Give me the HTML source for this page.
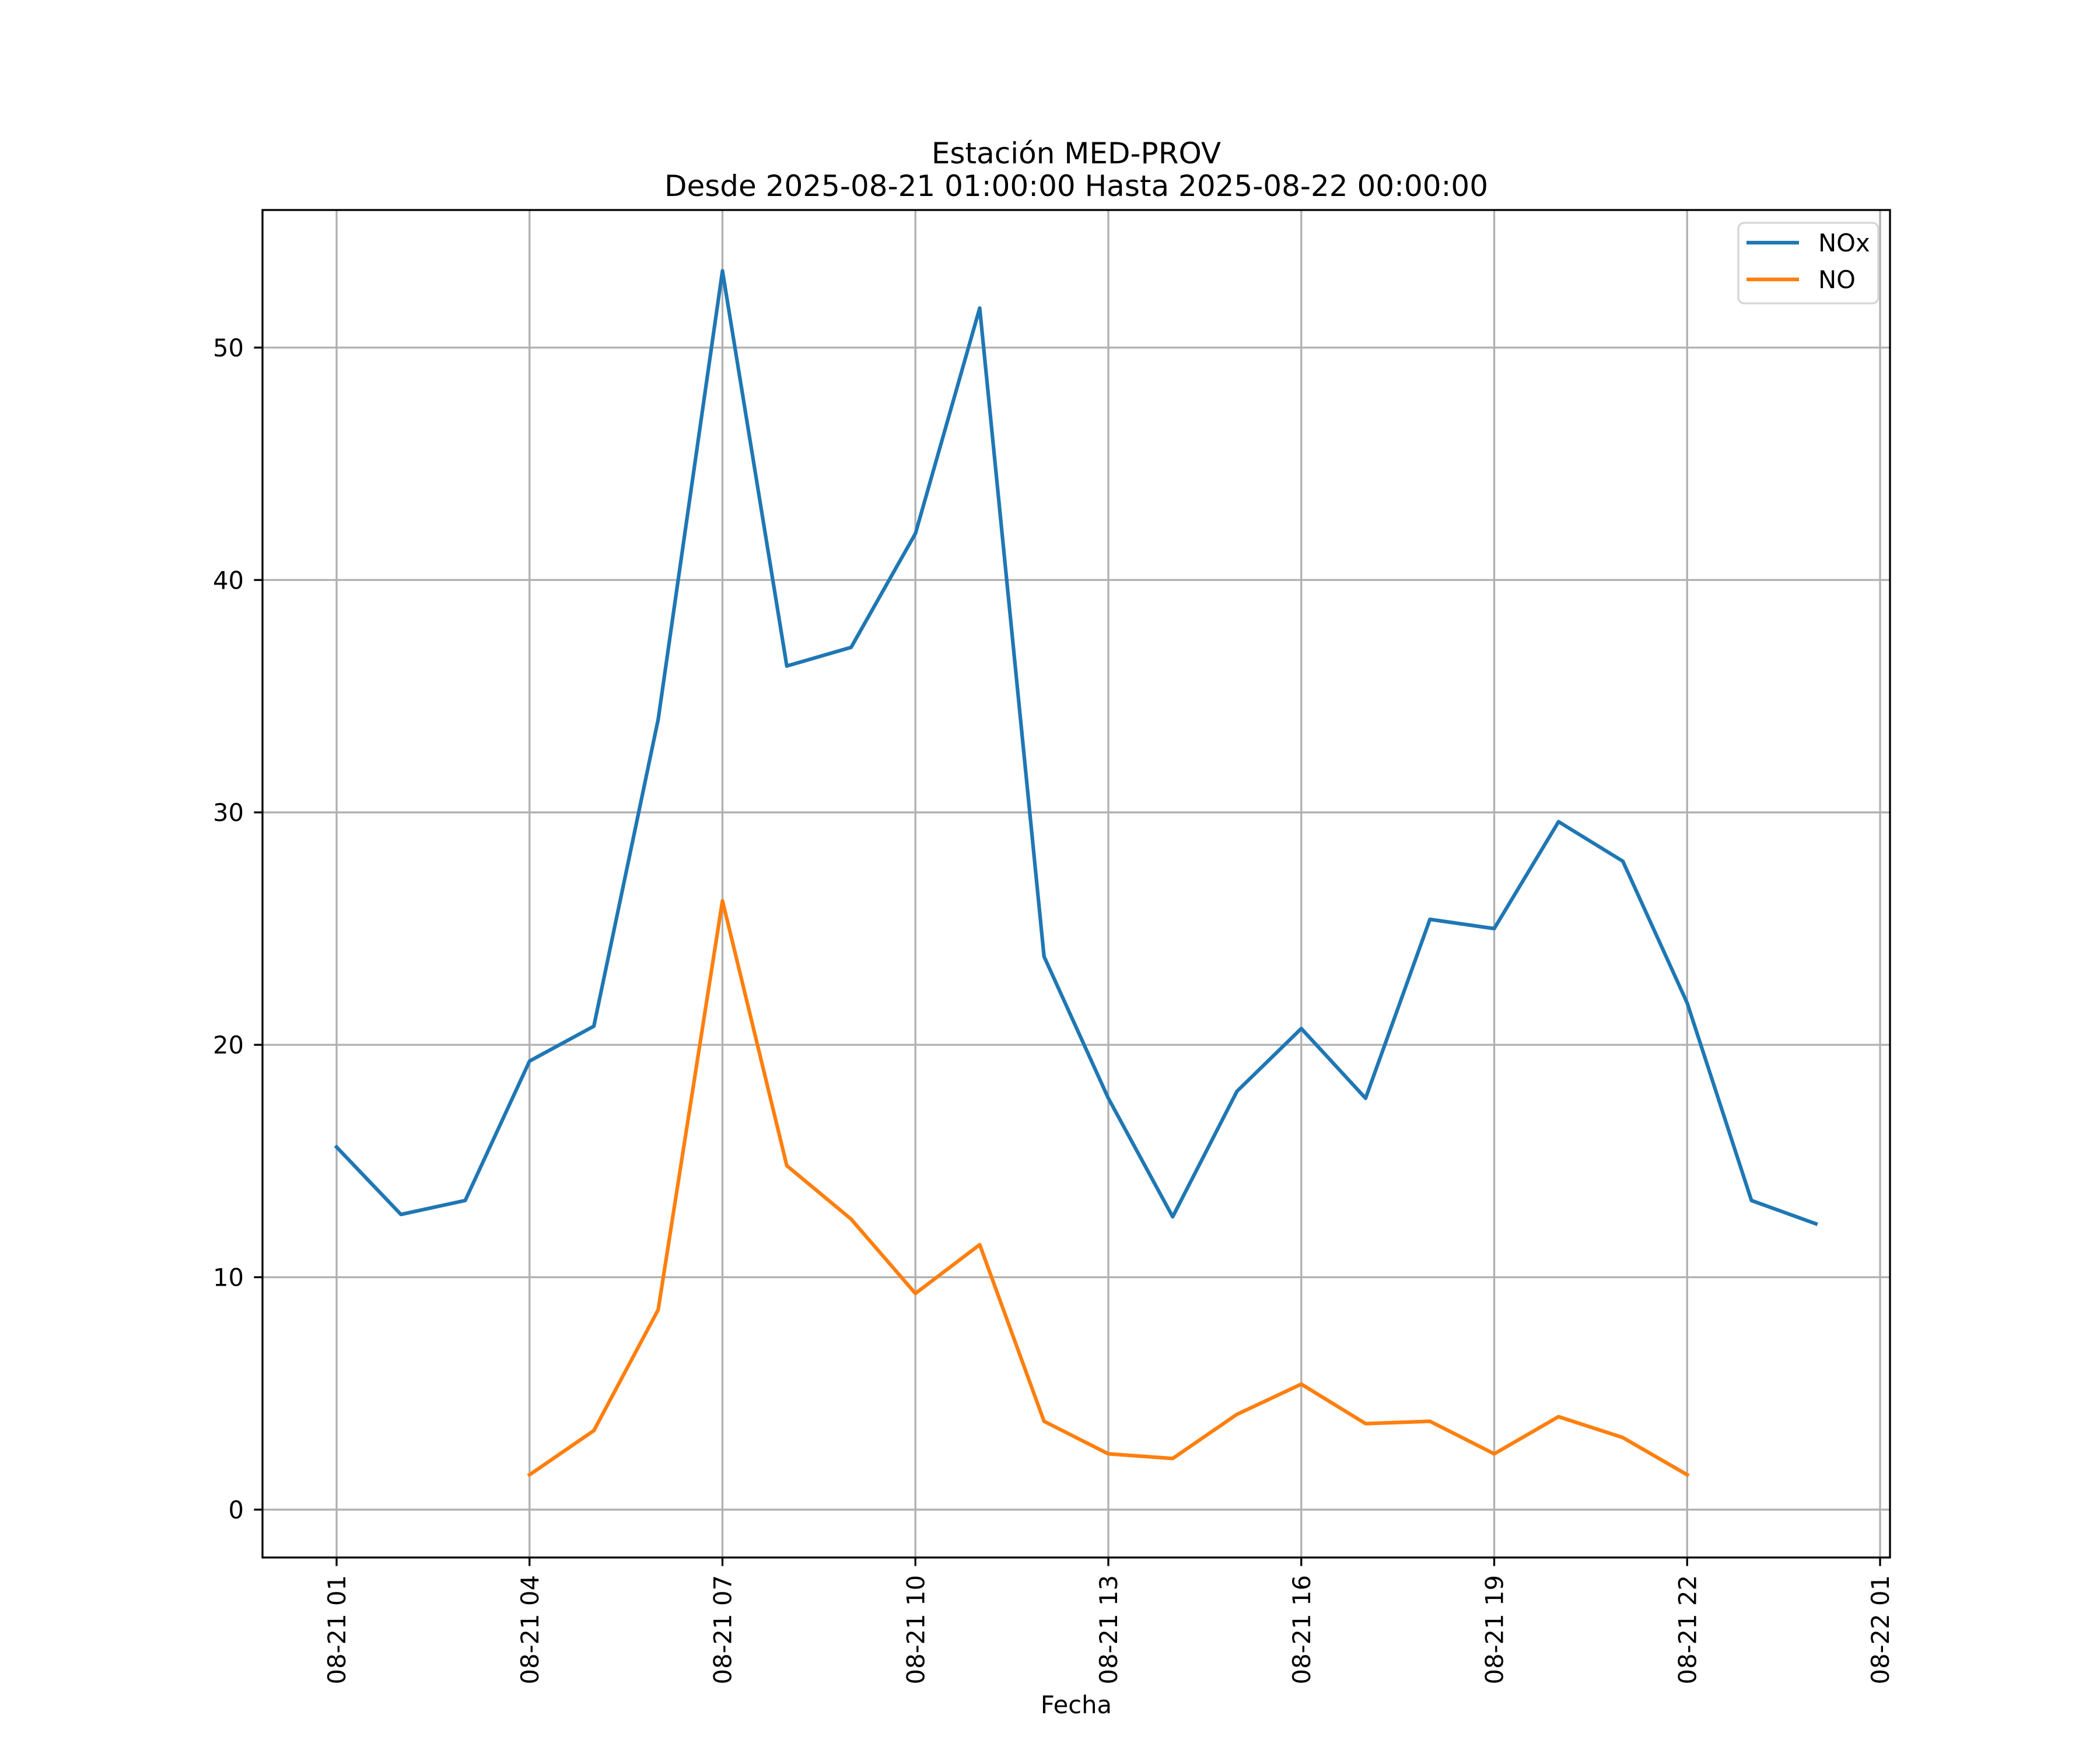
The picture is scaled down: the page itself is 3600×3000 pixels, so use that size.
<!DOCTYPE html>
<html><head><meta charset="utf-8"><style>
html,body{margin:0;padding:0;background:#fff;}
svg{display:block;font-family:"DejaVu Sans","Liberation Sans",sans-serif;}
</style></head><body>
<svg id="chart" width="3600" height="3000" viewBox="0 0 3600 3000" xmlns="http://www.w3.org/2000/svg">
<rect width="3600" height="3000" fill="#fff"/>
<g id="grid"></g>
<g id="series"></g>
<rect x="450" y="360" width="2790" height="2310" fill="none" stroke="#000" stroke-width="3.3"/>
<g id="ticks"></g>
<text x="1845" y="280" font-size="50" text-anchor="middle">Estación MED-PROV</text>
<text x="1845" y="336" font-size="50" text-anchor="middle">Desde 2025-08-21 01:00:00 Hasta 2025-08-22 00:00:00</text>
<text x="1845" y="2937" font-size="41.7" text-anchor="middle">Fecha</text>
<g>
<rect x="2980" y="382" width="240" height="138" rx="10" fill="#fff" fill-opacity="0.8" stroke="#d6d6d6" stroke-width="3.3"/>
<line x1="2994" y1="416" x2="3084" y2="416" stroke="#1f77b4" stroke-width="6.25"/>
<text x="3117" y="431" font-size="41.7">NOx</text>
<line x1="2994" y1="479" x2="3084" y2="479" stroke="#ff7f0e" stroke-width="6.25"/>
<text x="3117" y="494" font-size="41.7">NO</text>
</g>
</svg>
<script>
const hours = [1,2,3,4,5,6,7,8,9,10,11,12,13,14,15,16,17,18,19,20,21,22,23,24];
const noxValues = [15.6,12.7,13.3,19.3,20.8,34.0,53.3,36.3,37.1,42.0,51.7,23.8,17.7,12.6,18.0,20.7,17.7,25.4,25.0,29.6,27.9,21.8,13.3,12.3];
const noValues = [null,null,null,1.5,3.4,8.6,26.2,14.8,12.5,9.3,11.4,3.8,2.4,2.2,4.1,5.4,3.7,3.8,2.4,4.0,3.1,1.5,null,null];
const xTickHours = [1,4,7,10,13,16,19,22,25];
const xTickLabels = ["08-21 01","08-21 04","08-21 07","08-21 10","08-21 13","08-21 16","08-21 19","08-21 22","08-22 01"];
const yTicks = [0,10,20,30,40,50];

const NS="http://www.w3.org/2000/svg";
const X0=450,X1=3240,Y0=2670,Y1=360;
const xMin=1-(577-450)/110.25, xMax=1+(3240-577)/110.25;
const yMin=-2.06, yMax=55.92;
function xs(h){return X0+(h-xMin)/(xMax-xMin)*(X1-X0);}
function ys(v){return Y0-(v-yMin)/(yMax-yMin)*(Y0-Y1);}
function mk(tag,attrs,parent){const e=document.createElementNS(NS,tag);for(const k in attrs)e.setAttribute(k,attrs[k]);parent.appendChild(e);return e;}
const grid=document.getElementById('grid'),ticks=document.getElementById('ticks'),series=document.getElementById('series');

xTickHours.forEach((h,i)=>{
  const x=xs(h);
  const g=mk('line',{x1:x,y1:Y1,x2:x,y2:Y0,stroke:'#b0b0b0','stroke-width':3.3},grid);
  
  
  const t=mk('line',{x1:x,y1:Y0,x2:x,y2:Y0+14.6,stroke:'#000','stroke-width':3.3},ticks);
  
  
  const lb=mk('text',{x:0,y:0,'font-size':41.7,'text-anchor':'end',transform:`translate(${x+15},${Y0+30}) rotate(-90)`},ticks);
  lb.textContent=xTickLabels[i];
  
  
});
yTicks.forEach(v=>{
  const y=ys(v);
  const g=mk('line',{x1:X0,y1:y,x2:X1,y2:y,stroke:'#b0b0b0','stroke-width':3.3},grid);
  
  
  const t=mk('line',{x1:X0-14.6,y1:y,x2:X0,y2:y,stroke:'#000','stroke-width':3.3},ticks);
  
  
  const lb=mk('text',{x:418,y:y+15,'font-size':41.7,'text-anchor':'end'},ticks);
  lb.textContent=String(v);
  
  
});
function drawLine(vals,color,name){
  let d='',pen=false;
  vals.forEach((v,i)=>{
    if(v===null){pen=false;return;}
    d+=(pen?'L':'M')+xs(hours[i]).toFixed(1)+','+ys(v).toFixed(1);
    pen=true;
  });
  const p=mk('path',{d:d,fill:'none',stroke:color,'stroke-width':6.25,'stroke-linejoin':'round','stroke-linecap':'square'},series);
  
  
}
drawLine(noxValues,'#1f77b4','nox-line');
drawLine(noValues,'#ff7f0e','no-line');
</script>
</body></html>
